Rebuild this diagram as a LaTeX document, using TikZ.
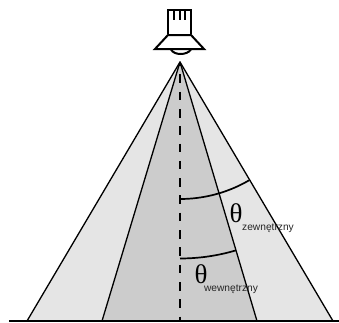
\documentclass[tikz,border=0pt]{standalone}
\usepackage{fontspec}
\setmainfont{Liberation Sans}
\newfontfamily\thetafont{Liberation Serif}
\tikzset{
  edge line/.style={draw=black,line width=1.3pt,line join=round},
  lamp line/.style={draw=black,line width=2pt,line join=miter},
  axis line/.style={draw=black,line width=2.8pt,dash pattern=on 8.6pt off 8.7pt,dash phase=5pt},
  angle line/.style={draw=black,line width=1.7pt},
  bigsym/.style={inner sep=0pt,font=\thetafont\fontsize{27}{27}\selectfont,text=black},
  sublabel/.style={inner sep=0pt,font=\fontsize{10.2}{12}\selectfont,text=black!85}
}
\begin{document}
\begin{tikzpicture}[x=1pt,y=-1pt]
\useasboundingbox (0,0) rectangle (339,322);
\coordinate (apex) at (180,62);
\coordinate (ol) at (27,321);
\coordinate (or) at (333,321);
\coordinate (il) at (102,321);
\coordinate (ir) at (257,321);
\coordinate (bl) at (9,321);
\coordinate (br) at (339,321);
\coordinate (foot) at (180,321);
\fill[black!10] (apex) -- (ol) -- (or) -- cycle;
\fill[black!20] (apex) -- (il) -- (ir) -- cycle;
\draw[edge line] (ol) -- (apex) -- (or);
\draw[edge line] (il) -- (apex) -- (ir);
\draw[edge line] (bl) -- (br);
\draw[axis line] (apex) -- (foot);
\draw[angle line] plot[smooth,samples=12,domain=90:59.7,variable=\a] ({180+137*cos(\a)},{62+137*sin(\a)});
\draw[angle line] plot[smooth,samples=8,domain=90:73.5,variable=\a] ({180+196.5*cos(\a)},{62+196.5*sin(\a)});
% lamp
\draw[lamp line] (168,34) -- (168,10) -- (191,10) -- (191,34);
\draw[lamp line] (173.5,10) -- (173.5,20) (179.5,10) -- (179.5,20) (185,10) -- (185,20);
\draw[lamp line] (168,35) -- (191,35) -- (204,49) -- (155,49) -- cycle;
\draw[lamp line] (171,49.5) .. controls (174,55.5) and (187,55.5) .. (191,49.5);
% labels
\node[bigsym] (t1) at (236,213) {θ};
\node[sublabel] (s1) at (268,228) {zewnętrzny};
\node[bigsym] (t2) at (201,274) {θ};
\node[sublabel] (s2) at (231,289) {wewnętrzny};
\end{tikzpicture}
\end{document}
